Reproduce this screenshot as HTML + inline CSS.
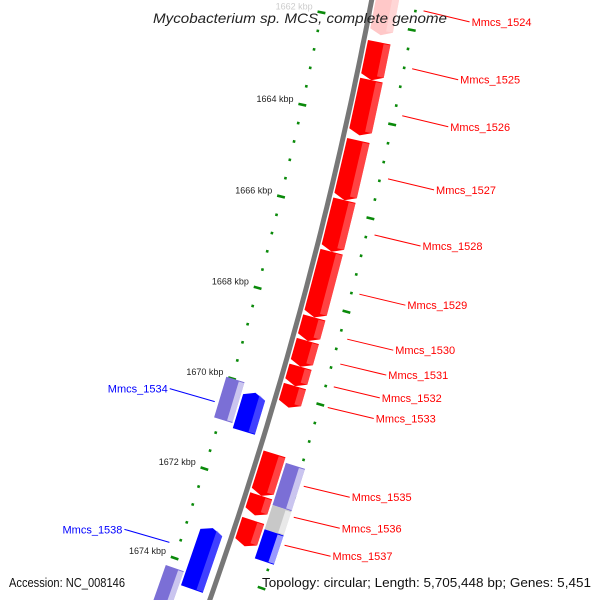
<!DOCTYPE html>
<html><head><meta charset="utf-8"><style>
html,body{margin:0;padding:0;background:#fff;overflow:hidden;}
svg{display:block;font-family:"Liberation Sans","DejaVu Sans",sans-serif;}
</style></head><body>
<svg id="map" width="600" height="600" viewBox="0 0 600 600" xmlns="http://www.w3.org/2000/svg">
<g id="rings"></g>
<g id="backbone"></g>
<g id="genes"></g>
<g id="labels"></g>
<text x="300" y="23" text-anchor="middle" font-size="14" font-style="italic" fill="#222" textLength="294" lengthAdjust="spacingAndGlyphs">Mycobacterium sp. MCS, complete genome</text>
<text x="9" y="587" font-size="13" fill="#111" textLength="116" lengthAdjust="spacingAndGlyphs">Accession: NC_008146</text>
<text x="262" y="587" font-size="13" fill="#111" textLength="329" lengthAdjust="spacingAndGlyphs">Topology: circular; Length: 5,705,448 bp; Genes: 5,451</text>
</svg>
<script>
// data
const tickKbp = [1662, 1664, 1666, 1668, 1670, 1672, 1674];
const geneNames = ["Mmcs_1524","Mmcs_1525","Mmcs_1526","Mmcs_1527","Mmcs_1528","Mmcs_1529","Mmcs_1530","Mmcs_1531","Mmcs_1532","Mmcs_1533","Mmcs_1534","Mmcs_1535","Mmcs_1536","Mmcs_1537","Mmcs_1538"];
const geneStart = [1660.9,1662.38,1663.19,1664.48,1665.76,1666.87,1668.29,1668.8,1669.36,1669.78,1670.15,1671.26,1672.18,1672.72,1673.14];
const geneEnd   = [1662.23,1663.19,1664.37,1665.76,1666.87,1668.29,1668.8,1669.36,1669.78,1670.25,1671.0,1672.18,1672.61,1673.29,1674.5];
const geneStrand = [1,1,1,1,1,1,1,1,1,1,-1,1,1,1,-1];
const extraStart = [1670.0,1671.37,1672.29,1672.82,1674.2];
const extraEnd   = [1670.9,1672.29,1672.82,1673.46,1675.0];
const extraColor = ["#7b6fd6","#7b6fd6","#c8c8c8","#0000ff","#7b6fd6"];
const extraRing  = [-1,1,1,1,-1];

const NS="http://www.w3.org/2000/svg";
const CX=-3632, CY=-759, K0=1664, A0=0.2161, AK=0.0117;
function ang(k){return A0+(k-K0)*AK;}
function pt(k,r){const a=ang(k);return [CX+r*Math.cos(a),CY+r*Math.sin(a)];}
function mk(tag,attrs,parent){const e=document.createElementNS(NS,tag);for(const k in attrs)e.setAttribute(k,attrs[k]);parent.appendChild(e);return e;}

const rings=document.getElementById('rings');
[4028,4120].forEach(R=>{
  for(let k=1660;k<=1676.01;k+=0.4){
    const kk=Math.round(k*10)/10;
    const major=Math.abs(kk/2-Math.round(kk/2))<1e-6;
    const p1=pt(kk,R-(major?4:1.3)),p2=pt(kk,R+(major?4:1.3));
    const l=mk('line',{x1:p1[0],y1:p1[1],x2:p2[0],y2:p2[1],stroke:'#0a8a0a','stroke-width':2.6},rings);
    
    
  }
});
tickKbp.forEach(k=>{
  const p=pt(k,4028-9);
  const t=mk('text',{x:p[0],y:p[1]-1,'text-anchor':'end','font-size':'9',fill:k===1662?'#ccc':'#222'},rings);
  t.textContent=k+' kbp';
  
  
});

const bb=document.getElementById('backbone');
let d='';
for(let k=1660;k<=1676;k+=0.25){const p=pt(k,4075);d+=(d?'L':'M')+p[0].toFixed(1)+','+p[1].toFixed(1);}
const b1=mk('path',{d:d,fill:'none',stroke:'#777','stroke-width':5},bb);



function geneShape(a,b,r1,r2,strand,fill,light,g){
  const head=0.1;
  let pts=[];
  if(strand===1){
    const e=Math.max(a,b-head);
    pts=[pt(a,r1),pt(e,r1),pt(b,(r1+r2)/2),pt(e,r2),pt(a,r2)];
  }else if(strand===-1){
    const s=Math.min(b,a+head);
    pts=[pt(s,r1),pt(b,r1),pt(b,r2),pt(s,r2),pt(a,(r1+r2)/2)];
  }else{pts=[pt(a,r1),pt(b,r1),pt(b,r2),pt(a,r2)];}
  const p=mk('polygon',{points:pts.map(q=>q[0].toFixed(1)+','+q[1].toFixed(1)).join(' '),fill:fill},g);
  const rm=r2-(r2-r1)*0.3;
  const lp=[pt(a+0.02,rm),pt(b-(strand===1?head:0.02),rm),pt(b-(strand===1?head:0.02),r2),pt(a+(strand===-1?head:0.02),r2)];
  mk('polygon',{points:lp.map(q=>q[0].toFixed(1)+','+q[1].toFixed(1)).join(' '),fill:light,opacity:0.6},g);
  return p;
}
const genes=document.getElementById('genes');
geneNames.forEach((n,i)=>{
  const g=mk('g',{},genes);
  
  
  const fw=geneStrand[i]===1;
  const r1=fw?4079:4043, r2=fw?4102:4066;
  const fill=fw?(i===0?'#ffc8c8':'#ff0000'):'#0000ff';
  const light=fw?(i===0?'#ffe0e0':'#ff7070'):'#6a6aff';
  geneShape(geneStart[i],geneEnd[i],r1,r2,geneStrand[i],fill,light,g);
});
extraStart.forEach((s,i)=>{
  const g=mk('g',{},genes);
  
  
  const r1=extraRing[i]===1?4104:4022, r2=extraRing[i]===1?4124:4041;
  geneShape(s,extraEnd[i],r1,r2,0,extraColor[i],'#ffffff',g);
});

const labels=document.getElementById('labels');
geneNames.forEach((n,i)=>{
  const fw=geneStrand[i]===1;
  const mid=(geneStart[i]+Math.min(geneEnd[i],1674.3))/2;
  const p1=pt(mid,fw?4128:4018);
  const p2=fw?[p1[0]+46,p1[1]+11]:[p1[0]-45,p1[1]-13];
  const col=fw?'#ff0000':'#0000ff';
  const l=mk('line',{x1:p1[0],y1:p1[1],x2:p2[0],y2:p2[1],stroke:col,'stroke-width':1},labels);
  
  
  const t=mk('text',{x:p2[0]+(fw?2:-2),y:p2[1]+4,'text-anchor':fw?'start':'end','font-size':'11',fill:col},labels);
  t.textContent=n;
  
  
});
</script>
</body></html>
